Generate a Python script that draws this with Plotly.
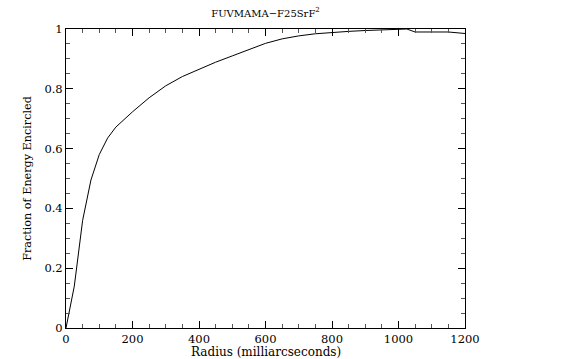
import plotly.graph_objects as go

radius = [0, 25, 50, 75, 100, 125, 150, 200, 250, 300, 350, 400, 450, 500, 550,
          600, 650, 700, 750, 800, 850, 900, 950, 1000, 1025, 1050, 1100, 1150, 1200]
fraction = [0.0, 0.14, 0.36, 0.495, 0.58, 0.635, 0.672, 0.723, 0.77, 0.81, 0.841,
            0.866, 0.889, 0.91, 0.932, 0.952, 0.967, 0.977, 0.984, 0.989, 0.992,
            0.995, 0.998, 1.0, 1.0, 0.99, 0.99, 0.99, 0.985]

title_text = "FUVMAMA\u2212F25SrF<sup>2</sup>"
x_title = "Radius (milliarcseconds)"
y_title = "Fraction of Energy Encircled"
x_ticks = [0, 200, 400, 600, 800, 1000, 1200]
y_ticks = [0, 0.2, 0.4, 0.6, 0.8, 1]
y_ticklabels = ["0", "0.2", "0.4", "0.6", "0.8", "1"]

font_family = "DejaVu Serif"
W, H = 580, 359
L, R, T, B = 66, 115, 29, 31
plot_h = H - T - B

fig = go.Figure()
fig.add_trace(go.Scatter(x=radius, y=fraction, mode="lines",
                         line=dict(color="black", width=1), showlegend=False))

axis_common = dict(
    showgrid=False, zeroline=False, showline=True, linecolor="black", linewidth=1,
    mirror="allticks", ticks="inside", ticklen=7, tickcolor="black", tickwidth=1,
    tickfont=dict(family=font_family, size=11.5, color="black"), automargin=False,
)

fig.update_xaxes(range=[0, 1200], tickvals=x_ticks,
                 minor=dict(ticks="inside", ticklen=4, dtick=50, tickcolor="#555555", showgrid=False),
                 **axis_common)
fig.update_yaxes(range=[0, 1], tickvals=y_ticks, ticktext=y_ticklabels,
                 minor=dict(ticks="inside", ticklen=4, dtick=0.05, tickcolor="#555555", showgrid=False),
                 title=dict(text=y_title, font=dict(family=font_family, size=11.2, color="black"), standoff=10),
                 **axis_common)

fig.add_annotation(text=x_title, xref="paper", yref="paper",
                   x=0.5, xanchor="center", y=-(352 - (H - B)) / plot_h, yanchor="middle",
                   showarrow=False, font=dict(family=font_family, size=12, color="black"))

fig.update_layout(
    width=W, height=H,
    margin=dict(l=L, r=R, t=T, b=B, autoexpand=False),
    paper_bgcolor="white", plot_bgcolor="white",
    title=dict(text=title_text, x=(L + (W - R)) / 2 / W, xanchor="center", y=1 - 13 / H, yanchor="middle",
               font=dict(family=font_family, size=10, color="black")),
)

fig.write_html("out.html", config={"displayModeBar": False},
               post_script="document.body.style.margin='0';")
